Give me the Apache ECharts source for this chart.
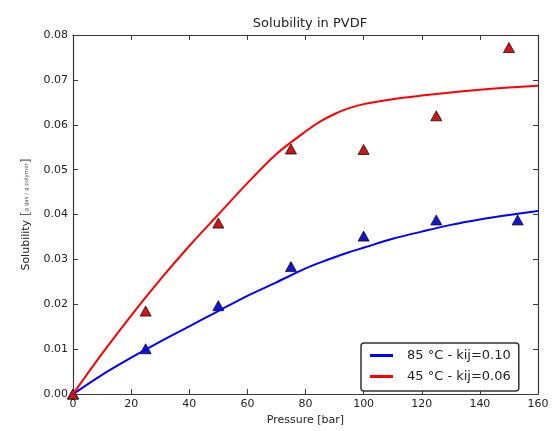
<!DOCTYPE html>
<html>
<head>
<meta charset="utf-8">
<script src="https://cdn.jsdelivr.net/npm/echarts@6/dist/echarts.min.js"></script>
<style>
html,body{margin:0;padding:0;background:#fff;}
#chart{width:553px;height:431px;}
</style>
</head>
<body>
<div id="chart"></div>
<script>
// Model curves (pressure in bar)
var curvePressure = [0, 10, 20, 30, 40, 50, 60, 70, 80, 85, 90, 95, 100, 110, 120, 130, 140, 150, 160];
var curve85 = [0, 0.0043, 0.0081, 0.0117, 0.0151, 0.0185, 0.0219, 0.0249, 0.0280, 0.0293, 0.0305, 0.0316, 0.0326, 0.0346, 0.0362, 0.0377, 0.0389, 0.0399, 0.0408];
var curve45 = [0, 0.0090, 0.0175, 0.0255, 0.0330, 0.0400, 0.0470, 0.0535, 0.0585, 0.0607, 0.0624, 0.0637, 0.0646, 0.0657, 0.0665, 0.0672, 0.0678, 0.0683, 0.0687];

// Experimental points
var expPressure85 = [0, 25, 50, 75, 100, 125, 153];
var exp85 = [0, 0.0101, 0.0197, 0.0284, 0.0352, 0.0388, 0.0388];
var expPressure45 = [0, 25, 50, 75, 100, 125, 150];
var exp45 = [0, 0.0185, 0.0381, 0.0546, 0.0545, 0.0620, 0.0772];

var seriesNames = ['85 °C - kij=0.10', '45 °C - kij=0.06'];
var xTicks = {min: 0, max: 160, interval: 20};
var yTicks = {min: 0, max: 0.08, interval: 0.01};

function pairs(xs, ys) { return xs.map(function (x, i) { return [x, ys[i]]; }); }

var FONT = 'DejaVu Sans';
var axisCol = '#3a3a3a';
function baseAxis(t, pos, showLabel, fmt) {
  return {
    type: 'value', position: pos, min: t.min, max: t.max, interval: t.interval,
    axisLine: {show: true, onZero: false, lineStyle: {color: axisCol, width: 1.2}},
    axisTick: {show: true, inside: true, length: 5, lineStyle: {color: axisCol}},
    splitLine: {show: false},
    axisLabel: {show: showLabel, fontFamily: FONT, fontSize: 11, color: '#222', margin: 5, formatter: fmt}
  };
}

var chart = echarts.init(document.getElementById('chart'), null, {renderer: 'canvas'});
var xMain = baseAxis(xTicks, 'bottom', true, function (v) { return String(v); });
xMain.name = 'Pressure [bar]';
xMain.nameLocation = 'middle';
xMain.nameGap = 19;
xMain.nameTextStyle = {fontFamily: FONT, fontSize: 11, color: '#222'};
var yMain = baseAxis(yTicks, 'left', true, function (v) { return v.toFixed(2); });
yMain.name = '{a|Solubility} {c|[}{b|g gas / g polymer}{c|]}';
yMain.nameLocation = 'middle';
yMain.nameGap = 40;
yMain.nameTextStyle = {fontFamily: FONT, color: '#222', rich: {
  a: {fontSize: 11, fontFamily: FONT, color: '#222'},
  b: {fontSize: 5.5, fontFamily: FONT, color: '#555'},
  c: {fontSize: 12, fontFamily: FONT, color: '#666'}
}};

var option = {
  animation: false,
  backgroundColor: '#fff',
  title: {
    text: 'Solubility in PVDF', left: 305, top: 12, textAlign: 'center',
    textStyle: {fontFamily: FONT, fontSize: 13, fontWeight: 'normal', color: '#222'}
  },
  grid: {left: 73, right: 15, top: 35, bottom: 34},
  legend: {
    data: seriesNames, orient: 'vertical', left: 361, top: 343,
    padding: [5, 8, 7, 9], itemGap: 6, itemWidth: 23, itemHeight: 3, icon: 'rect',
    borderColor: '#333', borderWidth: 1.5, borderRadius: 3, backgroundColor: '#fff',
    textStyle: {fontFamily: FONT, fontSize: 13, color: '#222', lineHeight: 15, padding: [0, 0, 0, 9]}
  },
  xAxis: [xMain, baseAxis(xTicks, 'top', false)],
  yAxis: [yMain, baseAxis(yTicks, 'right', false)],
  series: [
    {name: seriesNames[0], type: 'line', data: pairs(curvePressure, curve85), smooth: 0.3, showSymbol: false, symbol: 'none',
     color: '#0000ff', lineStyle: {color: '#0000ff', width: 2}},
    {name: seriesNames[1], type: 'line', data: pairs(curvePressure, curve45), smooth: 0.3, showSymbol: false, symbol: 'none',
     color: '#ff0000', lineStyle: {color: '#ff0000', width: 2}},
    {name: 'exp85', type: 'scatter', data: pairs(expPressure85, exp85), symbol: 'triangle', symbolSize: [11, 10],
     itemStyle: {color: '#1414d2', borderColor: '#111', borderWidth: 0.8, opacity: 1}},
    {name: 'exp45', type: 'scatter', data: pairs(expPressure45, exp45), symbol: 'triangle', symbolSize: [11, 10],
     itemStyle: {color: '#d41414', borderColor: '#111', borderWidth: 0.8, opacity: 1}}
  ]
};
chart.setOption(option);
</script>
</body>
</html>
